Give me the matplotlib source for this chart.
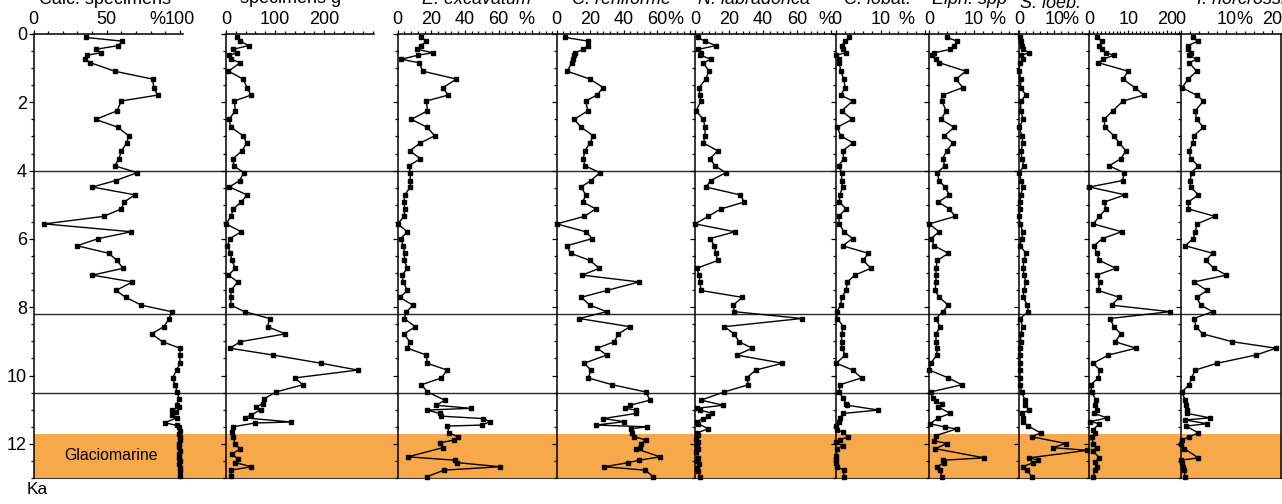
import matplotlib
matplotlib.use("Agg")
import matplotlib.pyplot as plt
from matplotlib.ticker import MultipleLocator

plt.rcParams['font.family'] = ['Liberation Sans', 'DejaVu Sans']
plt.rcParams['mathtext.fontset'] = 'custom'
plt.rcParams['mathtext.rm'] = 'Liberation Sans'
plt.rcParams['mathtext.it'] = 'Liberation Sans:italic'

# ---------------------------------------------------------------- data
# sample ages (ka) shared by all records down to 10.5 ka
AGE_UPPER = [0.10, 0.21, 0.34, 0.45, 0.55, 0.62, 0.74, 0.84, 1.09, 1.32, 1.57, 1.79, 1.96,
             2.25, 2.50, 2.73, 2.98, 3.19, 3.42, 3.65, 3.86, 4.06, 4.29, 4.48, 4.71, 4.92,
             5.12, 5.34, 5.56, 5.79, 5.99, 6.20, 6.42, 6.63, 6.86, 7.06, 7.26, 7.51, 7.71,
             7.94, 8.13, 8.33, 8.57, 8.78, 9.01, 9.20, 9.40, 9.64, 9.84, 10.07, 10.27, 10.48]

# Calcareous specimens (%)
calc_upper = [35.6, 60.7, 57.8, 42.5, 46.3, 36.5, 35.4, 38.8, 55.5, 81.3, 82.2, 84.7, 60.0,
              57.0, 42.5, 57.5, 65.0, 63.7, 60.0, 58.4, 55.5, 70.8, 56.2, 40.2, 69.2, 61.9,
              60.0, 47.9, 7.5, 66.9, 44.3, 29.7, 51.4, 57.0, 61.2, 40.2, 67.6, 56.2, 63.0,
              73.7, 94.3, 92.7, 89.0, 80.6, 88.1, 100, 100, 100, 97.7, 95.0, 96.6, 98.2]
calc_lower_age = [10.68, 10.85, 10.92, 11.01, 11.07, 11.16, 11.24, 11.38, 11.46, 11.52, 11.62,
                  11.72, 11.81, 11.90, 12.00, 12.10, 12.20, 12.30, 12.40, 12.50, 12.60, 12.70,
                  12.80, 12.93]
calc_lower = [99.3, 97.7, 99.5, 94.3, 97.3, 94.3, 97.7, 89.7, 97.7, 99.5, 100, 99.5, 100, 100,
              99.5, 99.5, 100, 99.5, 99.5, 100, 99.5, 100, 100, 100]

# Specimens per gram
spg_upper = [22, 29, 46, 14, 22, 7, 10, 29, 5, 35, 43, 51, 17, 19, 6, 10, 35, 42, 33, 14, 16,
             36, 28, 7, 43, 31, 15, 10, 0, 31, 8, 3, 9, 12, 19, 5, 24, 10, 10, 10, 38, 89, 85,
             121, 29, 8, 96, 194, 269, 140, 157, 102]
spg_lower_age = [10.68, 10.82, 10.92, 11.00, 11.15, 11.24, 11.36, 11.39, 11.50, 11.65, 11.80,
                 12.00, 12.15, 12.31, 12.43, 12.55, 12.67, 12.77, 12.93]
spg_lower = [78, 75, 62, 71, 52, 38, 133, 59, 15, 12, 14, 19, 28, 12, 24, 19, 52, 10, 10]

# E. excavatum (%)
exc_upper = [13.7, 17.1, 13.7, 11.7, 21.0, 12.1, 2.2, 12.5, 15.1, 34.9, 27.0, 30.0, 17.1, 17.7,
             8.1, 17.5, 22.0, 13.5, 7.1, 13.5, 6.7, 7.5, 7.5, 7.5, 4.2, 3.8, 4.2, 3.8, 0.0, 5.8,
             1.8, 3.2, 4.2, 3.8, 5.8, 2.6, 3.2, 5.8, 1.2, 9.1, 5.2, 3.8, 10.5, 3.8, 7.1, 5.8,
             17.1, 17.5, 29.4, 26.0, 14.1, 17.7]
exc_lower_age = [10.72, 10.87, 10.96, 11.01, 11.11, 11.19, 11.26, 11.35, 11.45, 11.48, 11.68,
                 11.79, 11.89, 11.97, 12.11, 12.38, 12.48, 12.55, 12.67, 12.77, 12.96]
exc_lower = [28.0, 23.0, 43.5, 17.5, 25.0, 26.0, 50.8, 54.8, 50.2, 29.6, 30.4, 35.9, 33.5, 25.0,
             27.0, 6.1, 34.3, 35.5, 60.7, 27.6, 17.5]

# C. reniforme (%)
ren_upper = [5.0, 18.9, 18.9, 15.9, 11.0, 10.4, 9.6, 9.0, 6.3, 19.9, 27.9, 24.0, 17.4, 18.6,
             10.5, 14.6, 21.9, 19.9, 16.9, 15.9, 16.9, 25.9, 20.5, 14.6, 17.4, 15.6, 23.4, 16.5,
             0.0, 17.4, 21.3, 6.0, 8.3, 19.9, 25.5, 15.3, 49.3, 29.9, 14.6, 19.9, 29.9, 13.5,
             43.9, 36.9, 34.5, 24.3, 29.9, 16.5, 20.5, 18.9, 33.3, 53.3]
ren_lower_age = [10.72, 10.87, 10.96, 11.01, 11.11, 11.26, 11.35, 11.45, 11.50, 11.56, 11.68,
                 11.79, 11.89, 11.99, 12.11, 12.14, 12.38, 12.48, 12.55, 12.67, 12.77, 12.96]
ren_lower = [55.9, 43.9, 40.9, 47.3, 47.3, 27.9, 40.5, 23.5, 53.9, 44.5, 44.9, 46.5, 53.3, 50.5,
             49.9, 47.3, 61.9, 49.3, 42.9, 28.5, 52.9, 57.8]

# N. labradorica (%)
lab_upper = [1.6, 5.9, 12.2, 1.9, 3.5, 2.9, 9.4, 4.9, 8.2, 6.3, 2.4, 2.9, 3.5, 0.6, 4.9, 5.9,
             5.9, 4.9, 13.4, 8.8, 11.8, 18.1, 9.4, 6.3, 26.5, 29.0, 15.3, 7.8, 0.0, 23.5, 8.8,
             11.4, 12.2, 13.4, 1.0, 2.4, 2.9, 3.5, 27.8, 22.5, 23.1, 62.8, 17.2, 23.1, 25.9,
             33.7, 24.5, 51.4, 35.7, 30.4, 31.4, 17.2]
lab_lower_age = [10.72, 10.87, 10.96, 11.01, 11.11, 11.19, 11.26, 11.35, 11.41, 11.56, 11.68,
                 11.75, 11.85, 11.95, 12.05, 12.15, 12.25, 12.40, 12.50, 12.60, 12.70, 12.80,
                 12.96]
lab_lower = [3.5, 16.6, 1.0, 2.9, 10.2, 7.8, 4.9, 1.0, 1.9, 7.8, 1.0, 1.5, 0.5, 2.0, 1.0, 1.5,
             0.5, 2.0, 1.0, 2.5, 1.0, 1.5, 3.0]

# C. lobatulus (%)
lob_upper = [2.9, 2.0, 1.2, 1.5, 2.1, 0.0, 0.5, 0.7, 1.0, 1.7, 2.0, 1.0, 3.7, 1.2, 3.6, 0.2,
             1.0, 3.8, 1.4, 1.7, 0.5, 1.2, 1.2, 1.4, 0.8, 0.7, 2.2, 0.5, 0.7, 1.7, 3.7, 1.4,
             7.2, 6.1, 7.8, 4.2, 2.5, 2.2, 1.2, 1.0, 0.1, 0.2, 1.6, 1.2, 1.2, 1.3, 2.0, 0.0,
             3.7, 5.7, 0.8, 0.7]
lob_lower_age = [10.65, 10.82, 10.87, 11.01, 11.11, 11.24, 11.35, 11.48, 11.58, 11.66, 11.79,
                 11.89, 11.95, 12.06, 12.14, 12.35, 12.45, 12.55, 12.67, 12.77, 12.96]
lob_lower = [1.4, 2.2, 2.5, 9.5, 1.6, 0.8, 0.5, 0.0, 0.2, 1.4, 2.7, 0.8, 0.0, 1.4, 0.2, 0.0,
             0.0, 0.0, 0.2, 1.7, 1.7]

# Elphidium spp (%)
elp_upper = [3.9, 6.3, 5.6, 4.7, 1.1, 0.5, 1.5, 2.2, 8.2, 6.0, 7.5, 3.0, 2.8, 3.8, 2.6, 5.6,
             3.4, 5.3, 3.9, 3.0, 3.5, 1.8, 2.2, 3.5, 4.5, 2.0, 4.5, 5.8, 0.0, 2.2, 0.4, 1.1,
             4.3, 1.8, 1.5, 1.5, 1.5, 1.3, 2.2, 4.3, 3.0, 1.5, 2.4, 1.5, 1.5, 1.7, 1.7, 0.3,
             0.0, 4.3, 7.3, 0.3]
elp_lower_age = [10.67, 10.75, 10.84, 10.92, 11.11, 11.24, 11.41, 11.51, 11.56, 11.76, 11.91,
                 11.99, 12.14, 12.41, 12.48, 12.55, 12.67, 12.77, 12.96]
elp_lower = [0.8, 1.5, 2.8, 2.0, 4.7, 2.0, 0.2, 3.5, 6.2, 1.4, 1.1, 4.0, 1.3, 12.3, 3.0, 3.3,
             1.8, 2.4, 2.8]

# S. loeblichi (%)
loe_upper = [0.2, 0.4, 0.7, 1.0, 2.9, 0.6, 1.0, 0.2, 0.0, 0.4, 0.4, 1.9, 0.4, 0.4, 1.1, 0.0,
             0.7, 1.0, 0.5, 0.7, 1.3, 0.0, 0.5, 1.1, 0.4, 0.2, 0.2, 0.0, 0.2, 1.0, 0.7, 0.2,
             1.9, 1.3, 1.1, 1.3, 1.9, 1.3, 1.1, 2.3, 2.6, 0.2, 1.0, 0.4, 0.4, 0.2, 0.2, 0.2,
             0.2, 0.2, 0.2, 0.7]
loe_lower_age = [10.72, 10.87, 11.01, 11.11, 11.24, 11.35, 11.48, 11.68, 11.79, 11.99, 12.11,
                 12.19, 12.41, 12.48, 12.55, 12.67, 12.77, 12.96]
loe_lower = [1.6, 1.6, 2.9, 0.7, 1.1, 1.1, 2.6, 6.1, 3.5, 13.3, 9.5, 19.4, 2.9, 5.4, 4.0, 1.0,
             2.3, 3.5]

# untitled record (0-20 scale)
rec9_upper = [1.9, 3.2, 2.6, 3.2, 4.3, 6.3, 3.6, 2.3, 10.0, 8.6, 11.7, 14.0, 8.7, 6.0, 3.8,
              4.0, 6.3, 7.7, 9.4, 8.1, 5.1, 8.9, 8.6, 0.0, 9.2, 3.8, 4.3, 2.6, 1.0, 8.3, 3.4,
              1.2, 1.9, 2.6, 6.8, 1.9, 2.7, 2.3, 7.7, 5.7, 20.7, 5.3, 6.3, 8.1, 6.6, 12.0, 4.9,
              1.0, 2.7, 2.3, 0.4, 0.6]
rec9_lower_age = [10.72, 10.87, 11.01, 11.11, 11.24, 11.35, 11.41, 11.58, 11.68, 11.79, 11.99,
                  12.11, 12.21, 12.41, 12.52, 12.67, 12.77, 12.96]
rec9_lower = [1.7, 1.5, 1.9, 1.2, 4.6, 0.2, 2.6, 1.0, 1.5, 0.6, 1.0, 1.9, 0.9, 2.6, 1.5, 1.9,
              1.5, 1.0]

# I. norcrossi (%)
nor_upper = [2.7, 3.7, 1.7, 1.7, 2.2, 1.9, 3.5, 1.9, 3.5, 1.7, 0.3, 3.5, 5.0, 3.2, 3.5, 5.0,
             2.9, 2.7, 1.9, 2.2, 3.9, 2.4, 2.1, 2.2, 3.9, 1.7, 1.7, 7.5, 3.6, 3.2, 2.8, 1.0,
             7.0, 5.5, 7.3, 10.0, 2.9, 5.8, 3.5, 4.4, 7.0, 2.9, 3.4, 4.8, 11.3, 20.8, 16.4,
             8.0, 3.2, 2.4, 1.9, 0.3]
nor_lower_age = [10.72, 10.87, 11.01, 11.11, 11.24, 11.30, 11.41, 11.48, 11.68, 11.79, 11.89,
                 11.99, 12.14, 12.41, 12.48, 12.55, 12.67, 12.77, 12.96]
nor_lower = [1.0, 1.2, 1.5, 1.5, 6.4, 1.0, 5.8, 1.2, 3.9, 1.9, 0.3, 0.0, 0.8, 3.9, 0.0, 0.3,
             0.5, 0.8, 1.0]

TITLES = ['Calc. specimens', 'specimens g$^{-1}$', 'E. excavatum', 'C. reniforme',
          'N. labradorica', 'C. lobat.', 'Elph. spp', 'S. loeb.', '', 'I. norcrossi']
EVENT_AGES = [4.0, 8.2, 10.5]
GLACIOMARINE = (11.7, 13.0)
AGE_TICKS = [0, 2, 4, 6, 8, 10, 12]

records = [
    (calc_upper, calc_lower_age, calc_lower),
    (spg_upper, spg_lower_age, spg_lower),
    (exc_upper, exc_lower_age, exc_lower),
    (ren_upper, ren_lower_age, ren_lower),
    (lab_upper, lab_lower_age, lab_lower),
    (lob_upper, lob_lower_age, lob_lower),
    (elp_upper, elp_lower_age, elp_lower),
    (loe_upper, loe_lower_age, loe_lower),
    (rec9_upper, rec9_lower_age, rec9_lower),
    (nor_upper, nor_lower_age, nor_lower),
]

# ---------------------------------------------------------------- layout
W, H = 1282, 504
TOP_PX, BOT_PX = 34, 478
AGE_MAX = 13.0
ORANGE = '#F7A84A'

# left/right edge (px), x-range max, major ticks + labels, minor step, '%' position,
# title centre (px), title baseline (px from top), italic title
AXES = [
    dict(l=33.5, r=183.3, xmax=102.3, major=[0, 50, 100], lab=['0', '50', '100'], minor=10,
         pct=84.6, tx=105, tb=4, it=False),
    dict(l=226.0, r=374.0, xmax=302, major=[0, 100, 200], lab=['0', '100', '200'], minor=20,
         pct=None, tx=297, tb=4, it=False),
    dict(l=397.7, r=556.7, xmax=94.6, major=[0, 20, 40, 60, 80], lab=['0', '20', '40', '60', ''],
         minor=4, pct=76.8, tx=477, tb=4, it=True),
    dict(l=556.7, r=695.0, xmax=82.8, major=[0, 20, 40, 60, 80], lab=['0', '20', '40', '60', ''],
         minor=4, pct=71.3, tx=622, tb=4, it=True),
    dict(l=695.0, r=836.3, xmax=83.1, major=[0, 20, 40, 60, 80], lab=['0', '20', '40', '60', ''],
         minor=4, pct=77.0, tx=754, tb=4, it=True),
    dict(l=836.3, r=929.3, xmax=21.0, major=[0, 10, 20], lab=['0', '10', ''], minor=2,
         pct=15.9, tx=878, tb=4, it=True),
    dict(l=929.3, r=1019.3, xmax=20.2, major=[0, 10, 20], lab=['0', '10', ''], minor=2,
         pct=15.3, tx=970, tb=4, it=True),
    dict(l=1019.3, r=1089.3, xmax=20.0, major=[0, 10, 20], lab=['0', '10', ''], minor=2,
         pct=14.7, tx=1050, tb=8.5, it=True),
    dict(l=1089.3, r=1180.5, xmax=23.4, major=[0, 10, 20], lab=['0', '10', '20'], minor=1,
         pct=None, tx=1135, tb=4, it=True),
    dict(l=1180.5, r=1280.7, xmax=21.8, major=[0, 10, 20], lab=['0', '10', '20'], minor=2,
         pct=13.8, tx=1241, tb=4, it=True),
]

MAJ_LEN, MIN_LEN, PAD = 3.2, 2.0, 0.9
FS = 13


def px_rect(left, right):
    return [left / W, 1 - BOT_PX / H, (right - left) / W, (BOT_PX - TOP_PX) / H]


fig = plt.figure(figsize=(W / 100, H / 100), dpi=100)

# shaded glaciomarine interval and event lines spanning every record
bg = fig.add_axes(px_rect(AXES[0]['l'], AXES[-1]['r']), zorder=0)
bg.set_xlim(0, 1)
bg.set_ylim(AGE_MAX, 0)
bg.axhspan(GLACIOMARINE[0], GLACIOMARINE[1], color=ORANGE, lw=0)
for a in EVENT_AGES:
    bg.axhline(a, color='#2a2a2a', lw=1.0)
bg.axhline(AGE_MAX, color='#3a3a3a', lw=0.8, clip_on=False)
bg.axis('off')

for i, (cfg, rec) in enumerate(zip(AXES, records)):
    upper, low_age, low_val = rec
    ages = AGE_UPPER + low_age
    vals = upper + low_val

    ax = fig.add_axes(px_rect(cfg['l'], cfg['r']), zorder=2)
    ax.patch.set_alpha(0)
    ax.set_xlim(0, cfg['xmax'])
    ax.set_ylim(AGE_MAX, 0)
    ax.plot(vals, ages, '-', color='black', lw=1.0, marker='s', ms=2.6,
            mfc='black', mec='black', clip_on=False, zorder=3)

    ax.spines['bottom'].set_visible(False)
    ax.spines['right'].set_visible(i == len(AXES) - 1)
    for s in ('top', 'left', 'right'):
        ax.spines[s].set_linewidth(1.1)

    ax.xaxis.set_ticks_position('top')
    ax.set_xticks(cfg['major'])
    ax.set_xticklabels(cfg['lab'])
    ax.xaxis.set_minor_locator(MultipleLocator(cfg['minor']))
    ax.tick_params(axis='x', which='major', direction='out', length=MAJ_LEN, width=0.9,
                   pad=PAD, labelsize=FS, top=True, bottom=False, labeltop=True,
                   labelbottom=False)
    ax.tick_params(axis='x', which='minor', direction='out', length=MIN_LEN, width=0.9,
                   top=True, bottom=False)

    ax.set_yticks(AGE_TICKS)
    ax.yaxis.set_minor_locator(MultipleLocator(0.5))
    ax.tick_params(axis='y', which='major', direction='out', length=3.6, width=0.9,
                   pad=1.0, labelsize=FS, left=True, right=False, labelleft=(i == 0))
    ax.tick_params(axis='y', which='minor', direction='out', length=2.2, width=0.9,
                   left=True, right=False)

    if cfg['pct'] is not None:
        ax.annotate('%', xy=(cfg['pct'], 1), xycoords=('data', 'axes fraction'),
                    xytext=(0, MAJ_LEN + PAD), textcoords='offset points',
                    ha='center', va='bottom', fontsize=FS, annotation_clip=False)

    if TITLES[i]:
        fig.text(cfg['tx'] / W, 1 - cfg['tb'] / H, TITLES[i], ha='center', va='baseline',
                 fontsize=FS, style='italic' if cfg['it'] else 'normal')

# interval label and age unit
fig.text(111 / W, 1 - 456 / H, 'Glaciomarine', ha='center', va='center', fontsize=11.4)
fig.text(37 / W, 1 - 490 / H, 'Ka', ha='center', va='center', fontsize=12.5)

fig.savefig('out.png', dpi=100)
